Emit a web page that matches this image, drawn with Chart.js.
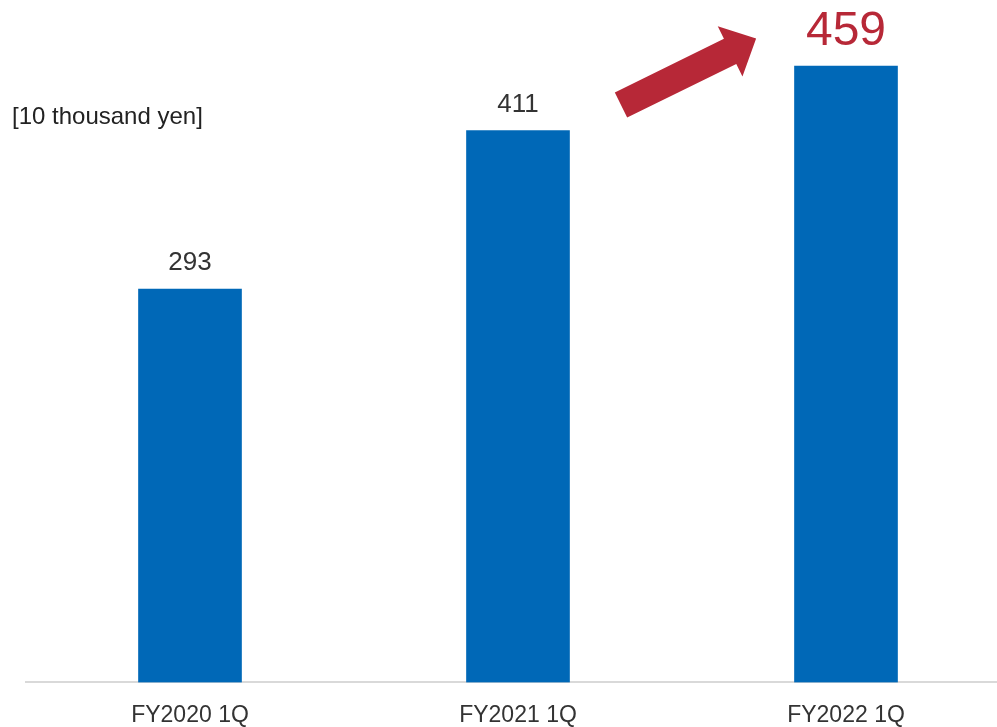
<!DOCTYPE html>
<html>
<head>
<meta charset="utf-8">
<script src="https://cdn.jsdelivr.net/npm/chart.js@4.4.1/dist/chart.umd.min.js"></script>
<style>
    html, body { margin: 0; padding: 0; background: #fff; overflow: hidden; }
    .wrap { position: relative; width: 1010px; height: 740px; }
    canvas { display: block; }
    .unit { position: absolute; left: 12px; top: 102px; font: 24px "Liberation Sans", Arial, sans-serif; color: #222; }
</style>
</head>
<body>
<div class="wrap">
    <canvas id="salesChart" width="1010" height="740"></canvas>
    <div class="unit">[10 thousand yen]</div>
</div>
<script>
const periods = ['FY2020 1Q', 'FY2021 1Q', 'FY2022 1Q'];
const amounts = [293, 411, 459];

const FONT = '"Liberation Sans", Arial, sans-serif';
const RED = '#b72837';

// value above each bar, the latest one larger and in red
const valueLabels = {
    id: 'valueLabels',
    afterDatasetsDraw(chart) {
        const ctx = chart.ctx;
        const meta = chart.getDatasetMeta(0);
        ctx.save();
        ctx.textAlign = 'center';
        ctx.textBaseline = 'alphabetic';
        meta.data.forEach((bar, i) => {
            const last = i === amounts.length - 1;
            ctx.font = (last ? 48 : 26) + 'px ' + FONT;
            ctx.fillStyle = last ? RED : '#333';
            ctx.fillText(amounts[i], bar.x, bar.y - (last ? 21 : 19));
        });
        ctx.restore();
    }
};

// growth arrow between the last two bars
const growthArrow = {
    id: 'growthArrow',
    afterDatasetsDraw(chart) {
        const x = chart.scales.x, y = chart.scales.y;
        const x0 = x.getPixelForValue(1.314), y0 = y.getPixelForValue(430);
        const x1 = x.getPixelForValue(1.726), y1 = y.getPixelForValue(479.5);
        const dx = x1 - x0, dy = y1 - y0;
        const len = Math.hypot(dx, dy);
        const ux = dx / len, uy = dy / len;
        const nx = -uy, ny = ux;
        const shaft = 14, head = 28, headLen = 29;
        const bx = x1 - ux * headLen, by = y1 - uy * headLen;
        const ctx = chart.ctx;
        ctx.save();
        ctx.fillStyle = RED;
        ctx.beginPath();
        ctx.moveTo(x0 + nx * shaft, y0 + ny * shaft);
        ctx.lineTo(bx + nx * shaft, by + ny * shaft);
        ctx.lineTo(bx + nx * head, by + ny * head);
        ctx.lineTo(x1, y1);
        ctx.lineTo(bx - nx * head, by - ny * head);
        ctx.lineTo(bx - nx * shaft, by - ny * shaft);
        ctx.lineTo(x0 - nx * shaft, y0 - ny * shaft);
        ctx.closePath();
        ctx.fill();
        ctx.restore();
    }
};

new Chart(document.getElementById('salesChart'), {
    type: 'bar',
    data: {
        labels: periods,
        datasets: [{
            data: amounts,
            backgroundColor: '#0068b7',
            barThickness: 103
        }]
    },
    options: {
        responsive: false,
        animation: false,
        layout: {
            padding: { top: 11, left: 26, right: 0, bottom: 0 }
        },
        plugins: {
            legend: { display: false },
            tooltip: { enabled: false }
        },
        scales: {
            x: {
                grid: { display: false },
                border: { display: true, color: '#d9d9d9', width: 2 },
                ticks: {
                    padding: 11,
                    color: '#333',
                    font: { family: FONT, size: 23 }
                }
            },
            y: {
                display: false,
                min: 0,
                max: 500
            }
        }
    },
    plugins: [valueLabels, growthArrow]
});
</script>
</body>
</html>
